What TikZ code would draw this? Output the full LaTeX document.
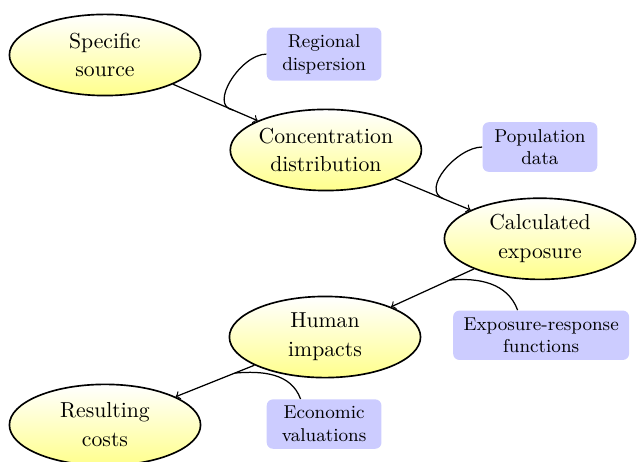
\documentclass[tikz,border=0pt]{standalone}
\usepackage{amsmath}
\usepackage{tikz}
\usetikzlibrary{shapes,calc}

\begin{document}
\begin{tikzpicture}[
  stage/.style={ellipse, draw, thick, top color=white, bottom color=yellow!45,
    minimum width=3.25cm, minimum height=1.38cm, inner sep=0pt, align=center,
    font=\fontsize{10.5}{14}\selectfont},
  input/.style={rectangle, rounded corners=3pt, fill=blue!20, font=\small,
    minimum width=1.95cm, minimum height=0.8cm, inner xsep=5pt, align=center},
  flow/.style={->, semithick},
  feed/.style={semithick}]

  \useasboundingbox (0,0) rectangle (10.83,-7.854);

  \node[stage] (src)  at (1.785,-0.935) {Specific\\source};
  \node[stage] (conc) at (5.54,-2.55)   {Concentration\\distribution};
  \node[stage] (calc) at (9.18,-4.06)   {Calculated\\exposure};
  \node[stage] (hum)  at (5.525,-5.73)  {Human\\impacts};
  \node[stage] (cost) at (1.785,-7.225) {Resulting\\costs};

  \node[input] (reg)  at (5.51,-0.92) {Regional\\dispersion};
  \node[input] (pop)  at (9.18,-2.5)  {Population\\data};
  \node[input] (resp) at (9.2,-5.70)  {Exposure-response\\functions};
  \node[input] (eco)  at (5.51,-7.21) {Economic\\valuations};

  \coordinate (j1) at ($(src)!0.58!(conc)$);
  \coordinate (j2) at ($(conc)!0.55!(calc)$);
  \coordinate (j3) at ($(calc)!0.42!(hum)$);
  \coordinate (j4) at ($(hum)!0.41!(cost)$);

  \draw[flow] (src) -- (conc);
  \draw[flow] (conc) -- (calc);
  \draw[flow] (calc) -- (hum);
  \draw[flow] (hum) -- (cost);

  \draw[feed] (reg.west) to[out=180, in=170] (j1);
  \draw[feed] (pop.west) to[out=180, in=160] (j2);
  \draw[feed] ([xshift=-0.4cm]resp.north) to[out=110, in=5] (j3);
  \draw[feed] ([xshift=-0.4cm]eco.north) to[out=110, in=5] (j4);

\end{tikzpicture}
\end{document}
